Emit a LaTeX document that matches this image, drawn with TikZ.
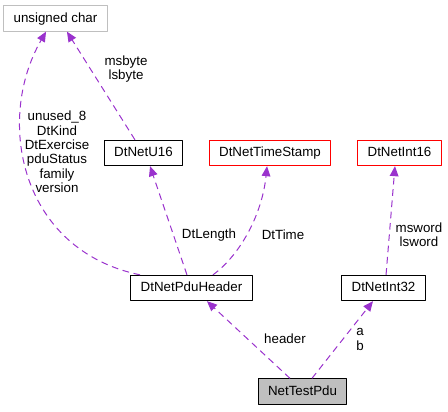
\documentclass[tikz,border=0pt]{standalone}
\usepackage{fontspec}
\setmainfont{Liberation Sans}
\usetikzlibrary{arrows.meta}
\definecolor{edgepurple}{HTML}{9A32CD}
\definecolor{boxgrey}{HTML}{BFBFBF}
\tikzset{
  cls/.style={draw=black,line width=0.75pt,minimum height=19pt,inner xsep=7.5pt,
    text height=7.4pt,text depth=2pt,font=\fontsize{10}{11}\selectfont},
  redcls/.style={cls,draw=red},
  extcls/.style={cls,draw=boxgrey},
  curcls/.style={cls,fill=boxgrey},
  rel/.style={->,draw=edgepurple,line width=0.75pt,dash pattern=on 5pt off 3.5pt},
  lbl/.style={align=center,inner sep=0pt,font=\fontsize{10}{10.8}\selectfont}
}
\begin{document}
\begin{tikzpicture}[x=0.75pt,y=-0.75pt,>={Triangle[length=7.5pt,width=6.5pt]},line join=round]
\useasboundingbox (0,0) rectangle (448,411);
% classes
\node[extcls] (uchar) at (55.5,18.5) {unsigned char};
\node[cls] (u16) at (143.5,153) {DtNetU16};
\node[redcls] (stamp) at (270,153) {DtNetTimeStamp};
\node[redcls] (i16) at (399.5,153) {DtNetInt16};
\node[cls] (hdr) at (191.5,288) {DtNetPduHeader};
\node[cls] (i32) at (383.5,288) {DtNetInt32};
\node[curcls] (pdu) at (302.5,391.5) {NetTestPdu};
% relations
\draw[rel] ([xshift=-6.4pt]u16.north) -- ([xshift=8.6pt]uchar.south);
\draw[rel] ([xshift=-38.6pt]hdr.north) .. controls (20,250) and (-5,120) .. ([xshift=-7.1pt]uchar.south);
\draw[rel] ([xshift=-3.4pt]hdr.north) -- ([xshift=4.9pt]u16.south);
\draw[rel] ([xshift=16.1pt]hdr.north) .. controls (240,255) and (262,215) .. ([xshift=-2.2pt]stamp.south);
\draw[rel] ([xshift=1.9pt]i32.north) -- ([xshift=-3.4pt]i16.south);
\draw[rel] ([xshift=-9.4pt]pdu.north) -- ([xshift=11.6pt]hdr.south);
\draw[rel] ([xshift=7.1pt]pdu.north) -- ([xshift=-7.9pt]i32.south);
% labels
\node[lbl] (lbyte) at (126,69) {msbyte\\lsbyte};
\node[lbl] (lhdr) at (57,152) {unused\_8\\DtKind\\DtExercise\\pduStatus\\family\\version};
\node[lbl] (llen) at (209,235) {DtLength};
\node[lbl] (ltime) at (283,235) {DtTime};
\node[lbl] (lword) at (419,234.5) {msword\\lsword};
\node[lbl] (lhead) at (285,339) {header};
\node[lbl] (lab) at (360,339.5) {a\\b};
\end{tikzpicture}
\end{document}
